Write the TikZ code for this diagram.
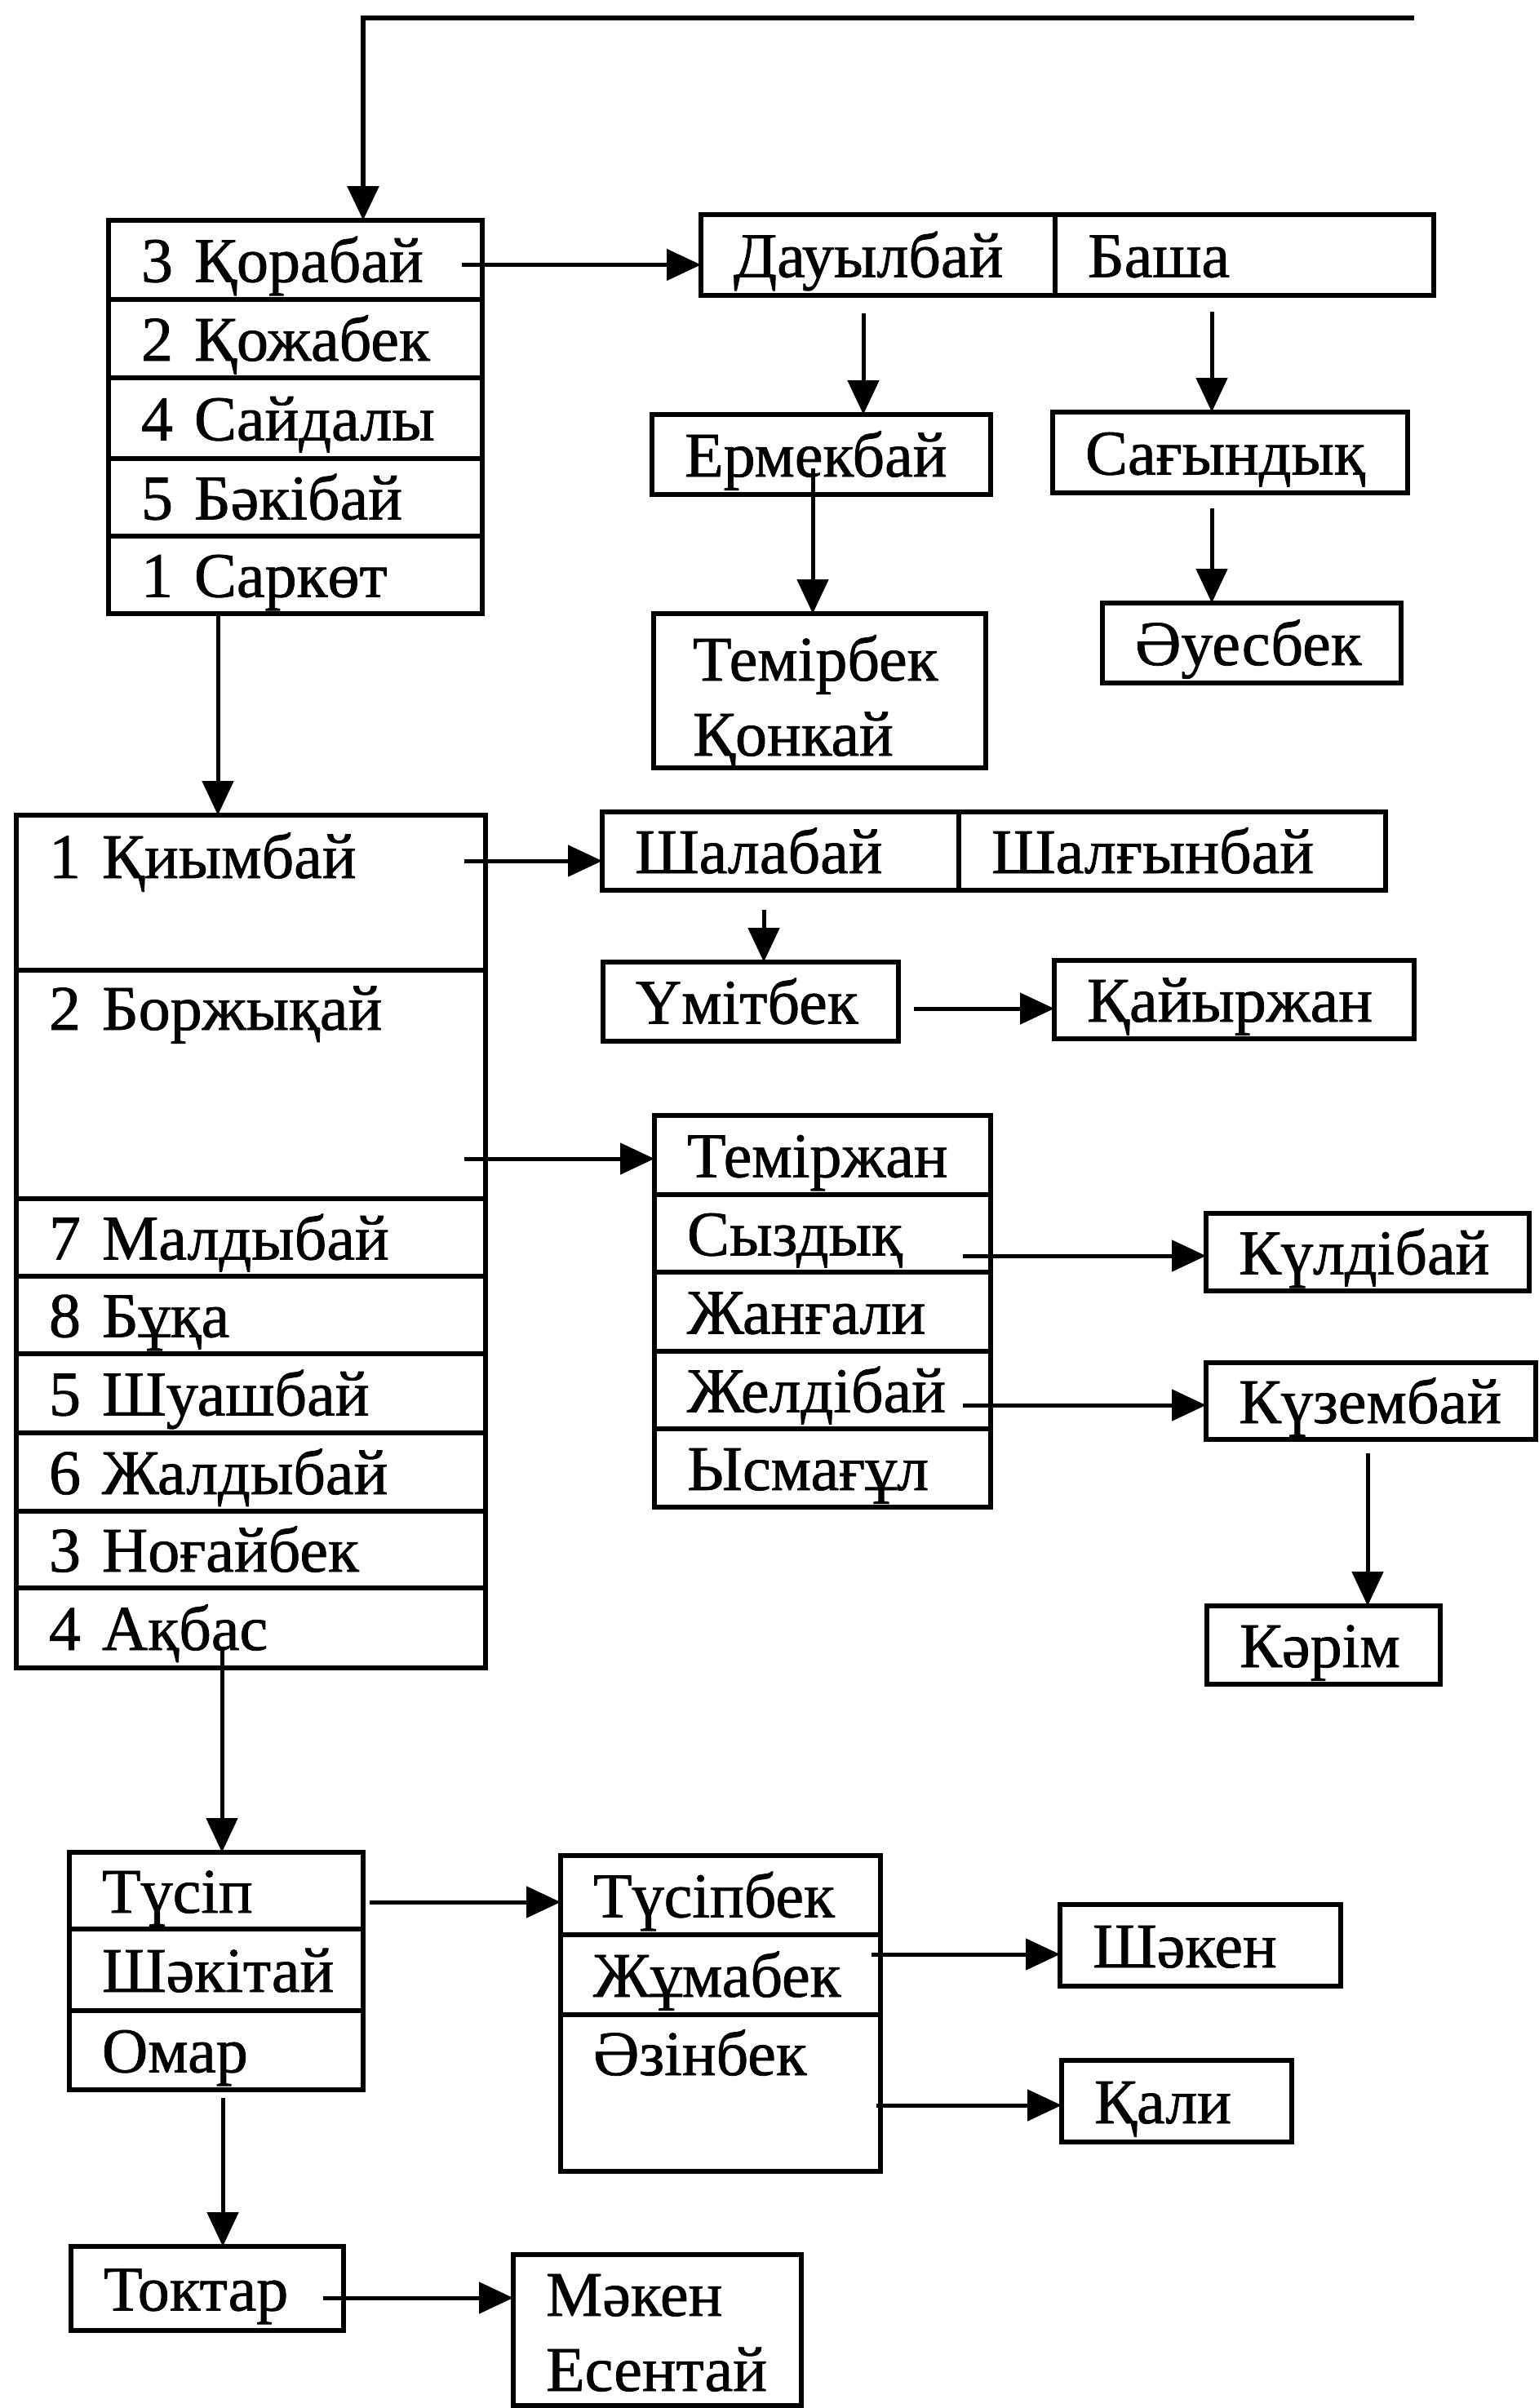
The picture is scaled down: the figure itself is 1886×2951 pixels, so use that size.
\documentclass[tikz,border=0pt]{standalone}
\usepackage{fontspec}
\setmainfont{Liberation Serif}[UprightFeatures={FakeBold=1}]
\usetikzlibrary{arrows.meta}
\newcommand\nmfont{\fontsize{78}{92}\selectfont}
\tikzset{
  cell/.style={draw, line width=5.5pt, anchor=north west, inner xsep=40pt,
    inner ysep=0pt, outer sep=0pt, align=left, font=\nmfont},
  cs/.code n args={3}{%
    \pgfmathsetlengthmacro\mycw{#1-80}%
    \pgfmathsetlengthmacro\mych{#3}%
    \pgfmathsetlengthmacro\mycd{#2-(#3)}%
    \pgfkeysalso{minimum width=#1pt, text width=\mycw, text height=\mych, text depth=\mycd}%
  },
  cc/.style 2 args={cs={#1}{#2}{#2/2+27}},
  arr/.style={line width=5pt, -{Triangle[length=42pt,width=38pt]}}
}
\begin{document}
\begin{tikzpicture}[x=1pt,y=-1pt]
\useasboundingbox (0,0) rectangle (1886,2951);
\path[fill=white] (0,0) rectangle (1886,2951);

% Box A
\node[cell, cc={458}{97}] (a1) at (133,270) {3 Қорабай};
\node[cell, cc={458}{96}] (a2) at (133,367) {2 Қожабек};
\node[cell, cc={458}{99}] (a3) at (133,463) {4 Сайдалы};
\node[cell, cc={458}{95}] (a4) at (133,562) {5 Бәкібай};
\node[cell, cc={458}{95}] (a5) at (133,657) {1 Саркөт};

% Box B
\node[cell, cc={434}{99}] (b1) at (859,263) {Дауылбай};
\node[cell, cc={464}{99}] (b2) at (1293,263) {Баша};
\node[cell, cc={415}{98}] (e1) at (799,508) {Ермекбай};
\node[cell, cc={435}{99}] (s1) at (1290,505) {Сағындық};
\node[cell, cs={391}{189}{82}, inner xsep=48pt] (t1) at (801,752) {Темірбек\\Қонкай};
\node[cell, cc={366}{98}] (u1) at (1351,739) {Әуесбек};

% Box C
\node[cell, cs={575}{190}{77}] (c1) at (20,999) {1 Қиымбай};
\node[cell, cs={575}{280}{73}] (c2) at (20,1189) {2 Боржықай};
\node[cell, cc={575}{95}] (c3) at (20,1469) {7 Малдыбай};
\node[cell, cc={575}{95}] (c4) at (20,1564) {8 Бұқа};
\node[cell, cc={575}{97}] (c5) at (20,1659) {5 Шуашбай};
\node[cell, cc={575}{96}] (c6) at (20,1756) {6 Жалдыбай};
\node[cell, cc={575}{94}] (c7) at (20,1852) {3 Ноғайбек};
\node[cell, cc={575}{98}] (c8) at (20,1946) {4 Ақбас};

% Box D and right side
\node[cell, cc={437}{96}] (d1) at (738,995) {Шалабай};
\node[cell, cc={523}{96}] (d2) at (1175,995) {Шалғынбай};
\node[cell, cc={362}{97}] (m1) at (739,1179) {Үмітбек};
\node[cell, cc={441}{96}] (k1) at (1292,1177) {Қайыржан};

% Box E
\node[cell, cc={412}{97}] (f1) at (802,1367) {Теміржан};
\node[cell, cc={412}{95}] (f2) at (802,1464) {Сыздық};
\node[cell, cc={412}{97}] (f3) at (802,1559) {Жанғали};
\node[cell, cc={412}{95}] (f4) at (802,1656) {Желдібай};
\node[cell, cc={412}{96}] (f5) at (802,1751) {Ысмағұл};
\node[cell, cc={396}{95}] (g1) at (1478,1487) {Күлдібай};
\node[cell, cc={404}{94}] (g2) at (1478,1670) {Күзембай};
\node[cell, cc={286}{96}] (g3) at (1479,1968) {Кәрім};

% Box F, G
\node[cell, cc={360}{94}, inner xsep=34pt] (h1) at (85,2270) {Түсіп};
\node[cell, cc={360}{100}, inner xsep=34pt] (h2) at (85,2364) {Шәкітай};
\node[cell, cc={360}{97}, inner xsep=34pt] (h3) at (85,2464) {Омар};
\node[cell, cc={392}{97}, inner xsep=37pt] (i1) at (687,2274) {Түсіпбек};
\node[cell, cc={392}{98}, inner xsep=37pt] (i2) at (687,2371) {Жұмабек};
\node[cell, cs={392}{192}{74}, inner xsep=37pt] (i3) at (687,2469) {Әзінбек};
\node[cell, cc={344}{100}] (j1) at (1299,2334) {Шәкен};
\node[cell, cc={282}{100}] (j2) at (1301,2525) {Қали};
\node[cell, cc={334}{103}, inner xsep=34pt] (n1) at (87,2753) {Токтар};
\node[cell, cs={353}{185}{75}, inner xsep=38pt] (n2) at (629,2763) {Мәкен\\Есентай};

% connectors
\coordinate (topR) at (1733,22);
\draw[arr, line width=6pt] (topR) -| ([xshift=312pt]a1.north west);
\draw[arr] ([xshift=-25pt,yshift=-6pt]a1.east) -- ([yshift=-6pt]a1.east -| b1.west);

\coordinate (p1) at (1058,384);
\draw[arr] (p1) -- (p1 |- e1.north);
\coordinate (p2) at (1485,382);
\draw[arr] (p2) -- (p2 |- s1.north);
\coordinate (p3) at (996,574);
\draw[arr] (p3) -- (p3 |- t1.north);
\coordinate (p4) at (1485,623);
\draw[arr] (p4) -- (p4 |- u1.north);
\coordinate (p5) at ([xshift=134pt]a5.south west);
\draw[arr] (p5) -- (p5 |- c1.north);

\coordinate (p6) at (569,1055);
\draw[arr] (p6) -- (p6 -| d1.west);
\coordinate (p7) at (936,1115);
\draw[arr] (p7) -- (p7 |- m1.north);
\coordinate (p8) at (1120,1236);
\draw[arr] (p8) -- (p8 -| k1.west);
\coordinate (p9) at (569,1420);
\draw[arr] (p9) -- (p9 -| f1.west);
\coordinate (p10) at (1180,1539);
\draw[arr] (p10) -- (p10 -| g1.west);
\coordinate (p11) at (1180,1722);
\draw[arr] (p11) -- (p11 -| g2.west);
\coordinate (p12) at (1676,1781);
\draw[arr] (p12) -- (p12 |- g3.north);

\coordinate (p13) at (272,2023);
\draw[arr] (p13) -- (p13 |- h1.north);
\coordinate (p14) at (453,2331);
\draw[arr] (p14) -- (p14 -| i1.west);
\coordinate (p15) at (1068,2395);
\draw[arr] (p15) -- (p15 -| j1.west);
\coordinate (p16) at (1074,2580);
\draw[arr] (p16) -- (p16 -| j2.west);
\coordinate (p17) at (273,2571);
\draw[arr] (p17) -- (p17 |- n1.north);
\coordinate (p18) at (396,2816);
\draw[arr] (p18) -- (p18 -| n2.west);
\end{tikzpicture}
\end{document}
